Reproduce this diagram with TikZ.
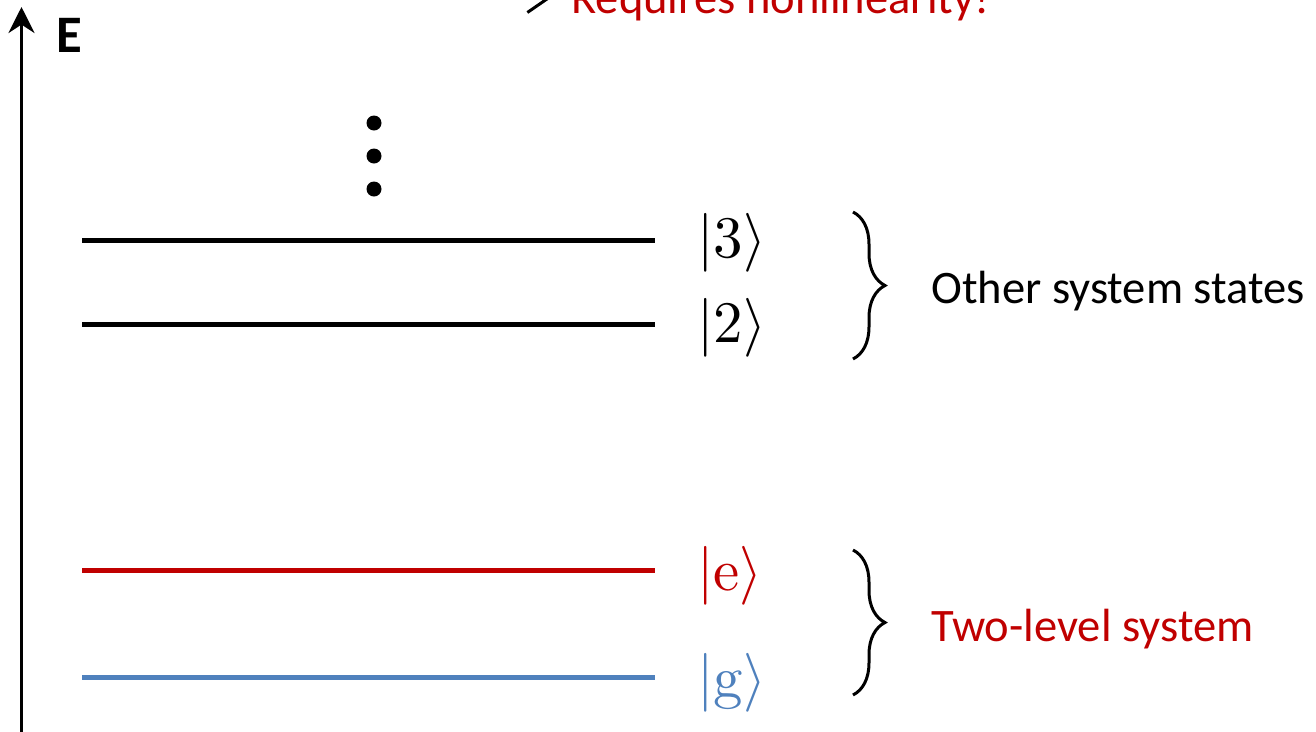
\documentclass[tikz,border=0pt]{standalone}
\usepackage{fontspec}
\usepackage{unicode-math}
\setmainfont{Carlito}
\setmathfont{Latin Modern Math}
\usetikzlibrary{arrows.meta, decorations.pathreplacing}
\definecolor{darkred}{HTML}{C00000}
\definecolor{groundblue}{HTML}{4F81BD}

\begin{document}
\begin{tikzpicture}[
    x=0.02cm, y=-0.02cm,
    statelevel/.style={line width=0.1cm},
    ket/.style={anchor=west, inner sep=0pt, font=\fontsize{33.5}{38}\selectfont},
    statetext/.style={anchor=base west, inner sep=0pt, font=\fontsize{26.5}{30}\selectfont},
    levelbrace/.style={decorate, decoration={brace, amplitude=0.64cm}, line width=0.06cm},
    energyaxis/.style={-{Stealth[length=0.52cm, width=0.52cm]}, line width=0.07cm},
    dot/.style={circle, fill=black, inner sep=0pt, minimum size=0.3cm}
]
\useasboundingbox (0,0) rectangle (1316,731);
\clip (0,0) rectangle (1316,731);

% Energy axis
\coordinate (axisbottom) at (21.5,745);
\coordinate (axistop) at (21.5,7);
\draw[energyaxis] (axisbottom) -- (axistop);
\node[inner sep=0pt, font=\fontsize{30}{34}\selectfont\bfseries] (elabel) at (69,35) {E};

% Note at the top (cut by the frame)
\node[statetext, text=darkred] (nonlin) at (571,13.5) {Requires nonlinearity!};
\coordinate (nlstart) at (505,-7.5);
\coordinate (nltip) at (559,-7.5);
\draw[-{Straight Barb[length=0.58cm, width=0.8cm]}, line width=0.06cm] (nlstart) -- (nltip);

% Higher states
\foreach \y [count=\i] in {123,156,189}
    \node[dot] (dot\i) at (374,\y) {};
\coordinate (l3a) at (82,240);
\coordinate (l3b) at (655,240);
\coordinate (l2a) at (82,324.5);
\coordinate (l2b) at (655,324.5);
\draw[statelevel] (l3a) -- (l3b);
\draw[statelevel] (l2a) -- (l2b);
\node[ket] (ket3) at (697,242.5) {$|3\rangle$};
\node[ket] (ket2) at (697,327.5) {$|2\rangle$};

% Two-level system
\coordinate (lea) at (82,570);
\coordinate (leb) at (655,570);
\coordinate (lga) at (82,677);
\coordinate (lgb) at (655,677);
\draw[statelevel, darkred] (lea) -- (leb);
\draw[statelevel, groundblue] (lga) -- (lgb);
\node[ket, text=darkred] (kete) at (697,576) {$|\symup{e}\rangle$};
\node[ket, text=groundblue] (ketg) at (697,683) {$|\symup{g}\rangle$};

% Braces and their texts
\coordinate (b1top) at (853,212);
\coordinate (b1bot) at (853,359);
\coordinate (b2top) at (853,550);
\coordinate (b2bot) at (853,695);
\draw[levelbrace] (b1top) -- (b1bot);
\draw[levelbrace] (b2top) -- (b2bot);
\node[statetext] (othertext) at (931,303) {Other system states};
\node[statetext, text=darkred] (twotext) at (931,641) {Two-level system};

\end{tikzpicture}
\end{document}
